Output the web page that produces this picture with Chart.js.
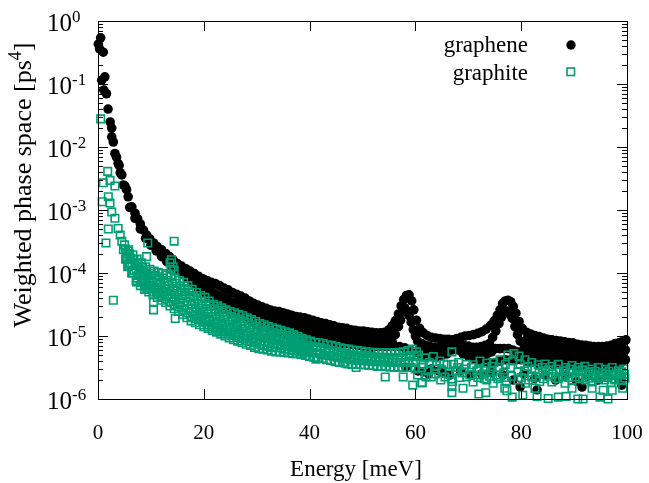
<!DOCTYPE html>
<html>
<head>
<meta charset="utf-8">
<script src="https://cdn.jsdelivr.net/npm/chart.js@4.4.1/dist/chart.umd.min.js"></script>
<style>
  html, body { margin: 0; padding: 0; background: #fff; }
  #wrap { width: 649px; height: 483px; }
</style>
</head>
<body>
<div id="wrap"><canvas id="chart"></canvas></div>
<script>
// tick labels
const xTicks = [0, 20, 40, 60, 80, 100];
const yExponents = [0, -1, -2, -3, -4, -5, -6];

// graphene: [energy meV, weighted phase space ps^4]
const grapheneLowE = [[0.06,0.43],[0.5,0.54],[0.3,0.36],[1.0,0.32],[0.7,0.115],[1.3,0.13],[1.1,0.08],[1.6,0.07],[1.9,0.04],[2.3,0.025],[2.6,0.02],[2.6,0.0145],[2.9,0.012],[3.2,0.0079],[3.5,0.0069],[3.8,0.0055],[4.0,0.0051],[4.2,0.0039],[4.5,0.0036],[4.8,0.0025],[5.1,0.0024],[5.4,0.0021]];

const grapheneUpper = [[5.7,1.62e-3],[6.4,1.12e-3],[7.0,8.9e-4],[7.5,7.2e-4],[8.0,6.0e-4],[8.6,4.8e-4],[9.2,4.0e-4],[9.8,3.47e-4],[10.5,3.0e-4],[11.2,2.63e-4],[12.0,2.34e-4],[12.8,2.04e-4],[13.5,1.82e-4],[14.2,1.62e-4],[15.0,1.41e-4],[15.8,1.29e-4],[16.6,1.17e-4],[17.4,1.07e-4],[18.2,9.8e-5],[19.0,8.9e-5],[19.8,8.1e-5],[20.6,7.6e-5],[21.4,7.1e-5],[22.2,6.8e-5],[23.0,6.3e-5],[23.8,5.75e-5],[24.6,5.4e-5],[25.4,4.9e-5],[26.2,4.6e-5],[27.0,4.3e-5],[27.8,4.0e-5],[28.6,3.6e-5],[29.4,3.3e-5],[30.2,3.1e-5],[31.0,2.9e-5],[31.8,2.75e-5],[32.6,2.57e-5],[33.4,2.5e-5],[34.2,2.45e-5],[35.0,2.34e-5],[35.8,2.24e-5],[36.6,2.14e-5],[37.4,2.04e-5],[38.2,2.0e-5],[39.0,1.95e-5],[39.8,1.86e-5],[40.6,1.78e-5],[41.4,1.7e-5],[42.2,1.62e-5],[43.0,1.58e-5],[43.8,1.51e-5],[44.6,1.45e-5],[45.4,1.38e-5],[46.2,1.35e-5],[47.0,1.32e-5],[47.8,1.26e-5],[48.6,1.23e-5],[49.4,1.2e-5],[50.2,1.2e-5],[51.0,1.17e-5],[51.8,1.15e-5],[52.6,1.12e-5],[53.4,1.12e-5],[54.2,1.15e-5],[55.0,1.26e-5],[55.6,1.45e-5],[56.2,1.74e-5],[56.8,2.24e-5],[57.3,3.0e-5],[57.8,3.8e-5],[58.3,4.4e-5],[58.8,4.5e-5],[59.3,3.6e-5],[59.7,2.6e-5],[60.2,1.78e-5],[60.8,1.32e-5],[61.5,1.12e-5],[62.2,1.02e-5],[63.0,9.5e-6],[63.8,9.3e-6],[64.6,9.1e-6],[65.4,8.9e-6],[66.2,8.9e-6],[67.0,8.7e-6],[67.8,9.1e-6],[68.6,9.5e-6],[69.4,1.0e-5],[70.2,1.02e-5],[71.0,1.05e-5],[71.8,1.1e-5],[72.6,1.17e-5],[73.4,1.29e-5],[74.2,1.48e-5],[74.9,1.74e-5],[75.5,2.14e-5],[76.0,2.6e-5],[76.5,3.3e-5],[77.0,3.6e-5],[77.5,3.7e-5],[78.0,3.5e-5],[78.5,2.95e-5],[79.0,2.3e-5],[79.6,1.7e-5],[80.2,1.32e-5],[81.0,1.15e-5],[81.8,1.07e-5],[82.6,1.02e-5],[83.4,9.8e-6],[84.2,9.3e-6],[85.0,8.9e-6],[85.8,8.7e-6],[86.6,8.5e-6],[87.4,8.3e-6],[88.2,8.1e-6],[89.0,7.9e-6],[89.8,7.8e-6],[90.6,7.4e-6],[91.4,7.2e-6],[92.2,7.1e-6],[93.0,6.9e-6],[93.8,6.8e-6],[94.6,6.8e-6],[95.4,6.8e-6],[96.2,6.9e-6],[97.0,7.1e-6],[97.8,7.6e-6],[98.6,7.9e-6],[99.3,8.3e-6],[99.8,8.7e-6]];

const grapheneMiddle = [[18.6,7.6e-5],[19.4,6.8e-5],[20.2,6.0e-5],[21.0,5.5e-5],[21.8,4.9e-5],[22.6,4.5e-5],[23.4,4.2e-5],[24.2,3.9e-5],[25.0,3.55e-5],[25.8,3.3e-5],[26.6,3.1e-5],[27.4,2.9e-5],[28.2,2.7e-5],[29.0,2.45e-5],[29.8,2.24e-5],[30.6,2.1e-5],[31.4,1.95e-5],[32.2,1.86e-5],[33.0,1.78e-5],[33.8,1.7e-5],[34.6,1.62e-5],[35.4,1.55e-5],[36.2,1.48e-5],[37.0,1.41e-5],[37.8,1.35e-5],[38.6,1.32e-5],[39.4,1.29e-5],[40.2,1.23e-5],[41.0,1.2e-5],[41.8,1.15e-5],[42.6,1.12e-5],[43.4,1.1e-5],[44.2,1.07e-5],[45.0,1.05e-5],[45.8,1.02e-5],[46.6,1.0e-5],[47.4,9.8e-6],[48.2,9.5e-6],[49.0,9.3e-6],[49.8,9.1e-6],[50.6,8.9e-6],[51.4,8.7e-6],[52.2,8.7e-6],[53.0,8.7e-6],[53.8,8.7e-6],[54.6,8.9e-6],[55.4,9.3e-6],[56.2,1.05e-5],[56.8,1.41e-5],[57.2,1.78e-5],[57.6,2.4e-5],[58.0,2.8e-5],[58.4,2.5e-5],[58.8,2.1e-5],[59.2,1.66e-5],[59.6,1.26e-5],[60.0,1.0e-5],[60.4,8.3e-6],[61.2,7.6e-6],[62.0,7.1e-6],[62.8,6.8e-6],[63.6,6.6e-6],[64.4,6.6e-6],[65.2,6.6e-6],[66.0,6.9e-6],[66.8,7.2e-6],[67.6,7.4e-6],[68.4,7.2e-6],[69.2,7.1e-6],[70.0,6.9e-6],[70.8,6.6e-6],[71.6,6.6e-6],[72.4,6.8e-6],[73.2,7.1e-6],[74.0,7.6e-6],[74.6,9.5e-6],[75.2,1.2e-5],[75.8,1.58e-5],[76.3,2.0e-5],[76.8,2.4e-5],[77.3,2.5e-5],[77.8,2.24e-5],[78.3,1.9e-5],[78.8,1.41e-5],[79.3,1.05e-5],[79.8,8.3e-6],[80.6,7.1e-6],[81.4,6.6e-6],[82.2,6.3e-6],[83.0,6.0e-6],[83.8,5.9e-6],[84.6,5.75e-6],[85.4,5.6e-6],[86.2,5.5e-6],[87.0,5.4e-6],[87.8,5.25e-6],[88.6,5.25e-6],[89.4,5.1e-6],[90.2,5.0e-6],[91.0,4.9e-6],[91.8,4.8e-6],[92.6,4.7e-6],[93.4,4.7e-6],[94.2,4.6e-6],[95.0,4.6e-6],[95.8,4.7e-6],[96.6,4.8e-6],[97.4,5.0e-6],[98.2,5.4e-6],[99.0,5.6e-6],[99.7,6.0e-6]];

const grapheneLower = [[6.0,1.1e-3],[7.0,7.4e-4],[8.0,5.0e-4],[9.0,3.55e-4],[10.0,2.75e-4],[11.0,2.24e-4],[12.0,1.82e-4],[13.0,1.51e-4],[14.0,1.26e-4],[15.0,1.1e-4],[16.0,9.5e-5],[17.0,8.3e-5],[18.0,6.8e-5],[19.0,5.6e-5],[20.0,4.8e-5],[21.0,4.0e-5],[22.0,3.4e-5],[23.0,3.0e-5],[24.0,2.75e-5],[25.0,2.5e-5],[26.0,2.34e-5],[27.0,2.14e-5],[28.0,1.95e-5],[29.0,1.74e-5],[30.0,1.58e-5],[31.0,1.45e-5],[32.0,1.35e-5],[33.0,1.26e-5],[34.0,1.17e-5],[35.0,1.1e-5],[36.0,1.02e-5],[37.0,9.5e-6],[38.0,9.1e-6],[39.0,8.7e-6],[40.0,8.5e-6],[41.0,8.3e-6],[42.0,8.3e-6],[43.0,8.1e-6],[44.0,7.9e-6],[45.0,7.8e-6],[46.0,7.6e-6],[47.0,7.6e-6],[48.0,7.4e-6],[49.0,7.1e-6],[50.0,6.9e-6],[51.0,6.8e-6],[52.0,6.6e-6],[53.0,6.8e-6],[54.0,6.8e-6],[55.0,6.9e-6],[56.0,6.9e-6],[57.0,6.8e-6],[58.0,6.5e-6],[59.0,6.0e-6],[60.0,5.5e-6],[61.0,5.0e-6],[62.0,4.8e-6],[63.0,4.7e-6],[64.0,4.7e-6],[65.0,4.9e-6],[66.0,5.2e-6],[67.0,6.0e-6],[68.0,6.0e-6],[69.0,5.2e-6],[70.0,4.8e-6],[71.0,4.4e-6],[72.0,4.2e-6],[73.0,3.9e-6],[74.0,3.7e-6],[75.0,3.8e-6],[76.0,4.0e-6],[77.0,4.2e-6],[78.0,4.2e-6],[79.0,4.2e-6],[80.0,4.2e-6],[81.0,4.0e-6],[82.0,3.8e-6],[83.0,3.7e-6],[84.0,3.7e-6],[85.0,3.6e-6],[86.0,3.55e-6],[87.0,3.55e-6],[88.0,3.5e-6],[89.0,3.5e-6],[90.0,3.4e-6],[91.0,3.3e-6],[92.0,3.2e-6],[93.0,3.16e-6],[94.0,3.16e-6],[95.0,3.1e-6],[96.0,3.16e-6],[97.0,3.3e-6],[98.0,3.55e-6],[99.0,3.8e-6],[99.7,4.2e-6]];

// fill between the rows, 24-56 meV
const grapheneFillLow = [[24.6,3.16e-5],[25.6,2.8e-5],[26.6,2.6e-5],[27.6,2.4e-5],[28.6,2.2e-5],[29.6,1.95e-5],[30.6,1.78e-5],[31.6,1.62e-5],[32.6,1.55e-5],[33.6,1.45e-5],[34.6,1.35e-5],[35.6,1.26e-5],[36.6,1.2e-5],[37.6,1.12e-5],[38.6,1.1e-5],[39.6,1.05e-5],[40.6,1.0e-5],[41.6,9.8e-6],[42.6,9.5e-6],[43.6,9.3e-6],[44.6,9.1e-6],[45.6,8.9e-6],[46.6,8.7e-6],[47.6,8.5e-6],[48.6,8.3e-6],[49.6,7.9e-6],[50.6,7.8e-6],[51.6,7.6e-6],[52.6,7.6e-6],[53.6,7.6e-6],[54.6,7.8e-6],[55.6,8.1e-6],
  [26.6,3.7e-5],[28.0,3.2e-5],[29.4,2.75e-5],[30.8,2.4e-5],[32.2,2.24e-5],[33.6,2.04e-5],[35.0,1.9e-5],[36.4,1.78e-5],[37.8,1.62e-5],[39.2,1.58e-5],[40.6,1.48e-5],[42.0,1.35e-5],[43.4,1.29e-5],[44.8,1.23e-5],[46.2,1.15e-5],[47.6,1.1e-5],[49.0,1.07e-5],[50.4,1.02e-5],[51.8,1.0e-5],[53.2,9.8e-6]];

// fill between the rows above 60 meV
const grapheneFill = [[60.8,6.2e-6],[61.6,5.9e-6],[62.4,5.75e-6],[63.2,5.6e-6],[64.0,5.6e-6],[64.8,5.6e-6],[65.6,5.9e-6],[66.4,6.3e-6],[68.8,6.3e-6],[69.6,5.9e-6],[70.4,5.5e-6],[71.2,5.25e-6],[72.0,5.25e-6],[72.8,5.25e-6],[73.6,5.25e-6],[74.4,5.6e-6],[75.2,6.3e-6],[76.0,6.3e-6],[76.8,6.3e-6],[77.6,6.3e-6],[78.4,6.0e-6],[79.2,5.6e-6],[80.0,5.6e-6],[80.8,5.4e-6],[81.6,5.0e-6],[82.4,4.9e-6],[83.2,4.7e-6],[84.0,4.7e-6],[84.8,4.6e-6],[85.6,4.5e-6],[86.4,4.4e-6],[87.2,4.4e-6],[88.0,4.3e-6],[88.8,4.3e-6],[89.6,4.2e-6],[90.4,4.1e-6],[91.2,4.0e-6],[92.0,3.9e-6],[92.8,3.8e-6],[93.6,3.8e-6],[94.4,3.8e-6],[95.2,3.7e-6],[96.0,3.8e-6],[96.8,3.9e-6],[97.6,4.1e-6],[98.4,4.4e-6],[99.2,4.6e-6],
  [81.0,8.7e-6],[82.0,8.1e-6],[83.0,7.8e-6],[84.0,7.4e-6],[85.0,7.1e-6],[86.0,6.9e-6],[87.0,6.6e-6],[88.0,6.5e-6],[89.0,6.3e-6],[90.0,6.2e-6],[91.0,5.9e-6],[92.0,5.75e-6],[93.0,5.6e-6],[94.0,5.5e-6],[95.0,5.5e-6],[96.0,5.6e-6],[97.0,5.75e-6],[98.0,6.2e-6],[99.0,6.6e-6]];

const grapheneScatter = [[58.2,3.2e-6],[60.5,2.8e-6],[61.5,2.7e-6],[62.5,2.5e-6],[63.0,3.0e-6],[64.5,2.8e-6],[65.2,2.6e-6],[66.5,2.4e-6],[68.5,2.8e-6],[70.5,2.4e-6],[72.5,2.5e-6],[74.5,2.6e-6],[76.5,2.4e-6],[78.5,2.0e-6],[79.8,1.55e-6],[80.5,2.5e-6],[82.5,2.1e-6],[83.0,1.4e-6],[84.5,2.4e-6],[86.5,2.0e-6],[88.5,2.4e-6],[90.5,1.9e-6],[91.5,1.55e-6],[92.5,2.3e-6],[94.5,2.0e-6],[96.5,2.4e-6],[98.5,2.0e-6],[99.0,1.66e-6]];

// graphite
const graphiteLowE = [[0.5,0.028],[1.83,4.1e-3],[1.0,2.7e-3],[2.27,2.95e-3],[3.2,2.4e-3],[1.95,1.62e-3],[0.8,1.35e-3],[2.27,1.29e-3],[2.6,9.3e-4],[3.2,7.4e-4],[1.95,5.0e-4],[3.8,5.1e-4],[4.2,4.0e-4],[1.5,3.0e-4],[4.5,3.2e-4],[9.4,3.0e-4],[14.4,3.2e-4],[4.8,2.34e-4],[5.7,2.24e-4],[5.4,1.74e-4],[6.0,1.45e-4],[9.2,1.82e-4],[13.6,1.45e-4],[13.9,1.62e-4],[14.2,1.26e-4],[13.8,1.15e-4],[14.4,1.1e-4],[6.4,1.0e-4],[7.3,7.2e-5],[9.2,5.75e-5],[2.9,3.7e-5],[10.5,3.5e-5],[10.5,2.6e-5],[14.6,1.9e-5]];

const graphiteRow1 = [[5.0,2.8e-4],[5.8,2.34e-4],[6.6,1.95e-4],[7.4,1.66e-4],[8.2,1.45e-4],[9.0,1.26e-4],[9.8,1.15e-4],[10.6,1.07e-4],[11.4,1.02e-4],[12.2,9.8e-5],[13.0,9.3e-5],[13.8,8.7e-5],[14.6,8.1e-5],[15.4,7.6e-5],[16.2,7.1e-5],[17.0,6.3e-5],[17.8,5.5e-5],[18.6,4.9e-5],[19.4,4.4e-5],[20.2,4.1e-5],[21.0,3.6e-5],[21.8,3.2e-5],[22.6,3.0e-5],[23.4,2.8e-5],[24.2,2.6e-5],[25.0,2.45e-5],[25.8,2.34e-5],[26.6,2.2e-5],[27.4,2.1e-5],[28.2,1.95e-5],[29.0,1.82e-5],[29.8,1.7e-5],[30.6,1.58e-5],[31.4,1.51e-5],[32.2,1.41e-5],[33.0,1.35e-5],[33.8,1.29e-5],[34.6,1.23e-5],[35.4,1.17e-5],[36.2,1.12e-5],[37.0,1.05e-5],[37.8,9.8e-6],[38.6,9.1e-6],[39.4,8.7e-6],[40.2,8.3e-6],[41.0,7.9e-6],[41.8,7.8e-6],[42.6,7.6e-6],[43.4,7.2e-6],[44.2,7.1e-6],[45.0,6.8e-6],[45.8,6.5e-6],[46.6,6.3e-6],[47.4,6.2e-6],[48.2,6.0e-6],[49.0,5.9e-6],[49.8,5.75e-6],[50.6,5.6e-6],[51.4,5.5e-6],[52.2,5.5e-6],[53.0,5.4e-6],[53.8,5.4e-6],[54.6,5.4e-6],[55.4,5.4e-6],[56.2,5.4e-6],[57.0,5.5e-6],[57.8,5.6e-6],[58.6,5.9e-6],[59.4,6.2e-6],[60.2,5.6e-6]];

const graphiteRow2 = [[5.4,2.04e-4],[6.2,1.7e-4],[7.0,1.35e-4],[7.8,1.17e-4],[8.6,1.02e-4],[9.4,9.1e-5],[10.2,8.3e-5],[11.0,7.8e-5],[11.8,7.2e-5],[12.6,6.8e-5],[13.4,6.3e-5],[14.2,5.75e-5],[15.0,5.4e-5],[15.8,5.0e-5],[16.6,4.5e-5],[17.4,4.0e-5],[18.2,3.5e-5],[19.0,3.16e-5],[19.8,2.95e-5],[20.6,2.7e-5],[21.4,2.45e-5],[22.2,2.24e-5],[23.0,2.1e-5],[23.8,2.0e-5],[24.6,1.82e-5],[25.4,1.74e-5],[26.2,1.62e-5],[27.0,1.55e-5],[27.8,1.45e-5],[28.6,1.35e-5],[29.4,1.26e-5],[30.2,1.2e-5],[31.0,1.15e-5],[31.8,1.1e-5],[32.6,1.05e-5],[33.4,1.0e-5],[34.2,9.5e-6],[35.0,9.3e-6],[35.8,8.9e-6],[36.6,8.5e-6],[37.4,8.1e-6],[38.2,7.6e-6],[39.0,7.2e-6],[39.8,7.1e-6],[40.6,6.8e-6],[41.4,6.6e-6],[42.2,6.5e-6],[43.0,6.2e-6],[43.8,5.9e-6],[44.6,5.75e-6],[45.4,5.5e-6],[46.2,5.4e-6],[47.0,5.25e-6],[47.8,5.1e-6],[48.6,5.0e-6],[49.4,4.9e-6],[50.2,4.9e-6],[51.0,4.8e-6],[51.8,4.7e-6],[52.6,4.6e-6],[53.4,4.6e-6],[54.2,4.6e-6],[55.0,4.5e-6],[55.8,4.5e-6],[56.6,4.5e-6],[57.4,4.6e-6],[58.2,4.7e-6],[59.0,4.9e-6],[59.8,4.7e-6]];

const graphiteRow3 = [[5.2,1.66e-4],[6.0,1.41e-4],[6.8,1.1e-4],[7.6,9.1e-5],[8.4,7.9e-5],[9.2,6.9e-5],[10.0,6.3e-5],[10.8,5.75e-5],[11.6,5.4e-5],[12.4,5.0e-5],[13.2,4.6e-5],[14.0,4.1e-5],[14.8,3.8e-5],[15.6,3.4e-5],[16.4,3.1e-5],[17.2,2.75e-5],[18.0,2.45e-5],[18.8,2.24e-5],[19.6,2.1e-5],[20.4,1.95e-5],[21.2,1.78e-5],[22.0,1.62e-5],[22.8,1.55e-5],[23.6,1.45e-5],[24.4,1.32e-5],[25.2,1.26e-5],[26.0,1.17e-5],[26.8,1.12e-5],[27.6,1.05e-5],[28.4,1.0e-5],[29.2,9.3e-6],[30.0,8.9e-6],[30.8,8.3e-6],[31.6,8.1e-6],[32.4,7.9e-6],[33.2,7.6e-6],[34.0,7.4e-6],[34.8,7.1e-6],[35.6,7.1e-6],[36.4,6.8e-6],[37.2,6.6e-6],[38.0,6.3e-6],[38.8,6.0e-6],[39.6,5.75e-6],[40.4,5.5e-6],[41.2,5.4e-6],[42.0,5.25e-6],[42.8,5.0e-6],[43.6,4.9e-6],[44.4,4.8e-6],[45.2,4.6e-6],[46.0,4.5e-6],[46.8,4.4e-6],[47.6,4.3e-6],[48.4,4.2e-6],[49.2,4.1e-6],[50.0,4.1e-6],[50.8,4.0e-6],[51.6,4.0e-6],[52.4,3.9e-6],[53.2,3.9e-6],[54.0,3.9e-6],[54.8,3.8e-6],[55.6,3.8e-6],[56.4,3.8e-6],[57.2,3.8e-6],[58.0,3.8e-6],[58.8,4.0e-6],[59.6,3.8e-6]];

const graphiteRow4 = [[5.6,1.26e-4],[6.4,1.0e-4],[7.2,7.6e-5],[8.0,6.3e-5],[8.8,5.5e-5],[9.6,5.0e-5],[10.4,4.5e-5],[11.2,4.1e-5],[12.0,3.7e-5],[12.8,3.4e-5],[13.6,3.0e-5],[14.4,2.7e-5],[15.2,2.45e-5],[16.0,2.2e-5],[16.8,1.95e-5],[17.6,1.74e-5],[18.4,1.62e-5],[19.2,1.51e-5],[20.0,1.41e-5],[20.8,1.32e-5],[21.6,1.23e-5],[22.4,1.15e-5],[23.2,1.07e-5],[24.0,1.0e-5],[24.8,9.3e-6],[25.6,8.7e-6],[26.4,8.3e-6],[27.2,7.9e-6],[28.0,7.4e-6],[28.8,7.1e-6],[29.6,6.6e-6],[30.4,6.3e-6],[31.2,6.2e-6],[32.0,6.0e-6],[32.8,5.75e-6],[33.6,5.6e-6],[34.4,5.6e-6],[35.2,5.5e-6],[36.0,5.4e-6],[36.8,5.25e-6],[37.6,5.25e-6],[38.4,5.1e-6],[39.2,4.9e-6],[40.0,4.7e-6],[40.8,4.6e-6],[41.6,4.5e-6],[42.4,4.4e-6],[43.2,4.2e-6],[44.0,4.1e-6],[44.8,3.9e-6],[45.6,3.8e-6],[46.4,3.8e-6],[47.2,3.6e-6],[48.0,3.55e-6],[48.8,3.55e-6],[49.6,3.5e-6],[50.4,3.5e-6],[51.2,3.4e-6],[52.0,3.4e-6],[52.8,3.3e-6],[53.6,3.3e-6],[54.4,3.3e-6],[55.2,3.2e-6],[56.0,3.2e-6],[56.8,3.16e-6],[57.6,3.16e-6],[58.4,3.16e-6],[59.2,3.16e-6],[60.0,3.0e-6]];

// in-between rows of the dense band, 5-40 meV
const graphiteFillA = [[5.2,2.4e-4],[6.0,2.0e-4],[6.8,1.62e-4],[7.6,1.41e-4],[8.4,1.23e-4],[9.2,1.07e-4],[10.0,9.8e-5],[10.8,9.1e-5],[11.6,8.7e-5],[12.4,8.3e-5],[13.2,7.6e-5],[14.0,7.1e-5],[14.8,6.8e-5],[15.6,6.2e-5],[16.4,5.6e-5],[17.2,5.0e-5],[18.0,4.4e-5],[18.8,3.9e-5],[19.6,3.6e-5],[20.4,3.3e-5],[21.2,3.0e-5],[22.0,2.7e-5],[22.8,2.57e-5],[23.6,2.4e-5],[24.4,2.2e-5],[25.2,2.04e-5],[26.0,1.95e-5],[26.8,1.86e-5],[27.6,1.74e-5],[28.4,1.62e-5],[29.2,1.51e-5],[30.0,1.41e-5],[30.8,1.35e-5],[31.6,1.26e-5],[32.4,1.23e-5],[33.2,1.15e-5],[34.0,1.1e-5],[34.8,1.05e-5],[35.6,1.02e-5],[36.4,9.8e-6],[37.2,9.1e-6],[38.0,8.5e-6],[38.8,8.3e-6],[39.6,7.8e-6]];

const graphiteFillB = [[5.6,1.74e-4],[6.4,1.41e-4],[7.2,1.15e-4],[8.0,9.8e-5],[8.8,8.5e-5],[9.6,7.6e-5],[10.4,7.1e-5],[11.2,6.5e-5],[12.0,6.0e-5],[12.8,5.6e-5],[13.6,5.1e-5],[14.4,4.7e-5],[15.2,4.4e-5],[16.0,4.0e-5],[16.8,3.55e-5],[17.6,3.16e-5],[18.4,2.8e-5],[19.2,2.57e-5],[20.0,2.4e-5],[20.8,2.24e-5],[21.6,2.0e-5],[22.4,1.86e-5],[23.2,1.74e-5],[24.0,1.62e-5],[24.8,1.51e-5],[25.6,1.41e-5],[26.4,1.35e-5],[27.2,1.29e-5],[28.0,1.2e-5],[28.8,1.15e-5],[29.6,1.07e-5],[30.4,1.0e-5],[31.2,9.5e-6],[32.0,9.3e-6],[32.8,8.9e-6],[33.6,8.5e-6],[34.4,8.3e-6],[35.2,7.9e-6],[36.0,7.8e-6],[36.8,7.4e-6],[37.6,7.2e-6],[38.4,6.9e-6],[39.2,6.6e-6],[40.0,6.3e-6]];

const graphiteFillC = [[5.8,1.32e-4],[6.6,1.02e-4],[7.4,8.3e-5],[8.2,7.1e-5],[9.0,6.2e-5],[9.8,5.6e-5],[10.6,5.0e-5],[11.4,4.7e-5],[12.2,4.3e-5],[13.0,3.9e-5],[13.8,3.5e-5],[14.6,3.16e-5],[15.4,2.9e-5],[16.2,2.6e-5],[17.0,2.34e-5],[17.8,2.04e-5],[18.6,1.9e-5],[19.4,1.78e-5],[20.2,1.66e-5],[21.0,1.51e-5],[21.8,1.41e-5],[22.6,1.32e-5],[23.4,1.23e-5],[24.2,1.15e-5],[25.0,1.07e-5],[25.8,1.02e-5],[26.6,9.5e-6],[27.4,9.1e-6],[28.2,8.5e-6],[29.0,8.1e-6],[29.8,7.8e-6],[30.6,7.4e-6],[31.4,7.1e-6],[32.2,6.9e-6],[33.0,6.6e-6],[33.8,6.5e-6],[34.6,6.5e-6],[35.4,6.2e-6],[36.2,6.0e-6],[37.0,5.9e-6],[37.8,5.75e-6],[38.6,5.6e-6],[39.4,5.4e-6]];

const graphiteHighE = [[60.6,5.0e-6],[61.8,4.5e-6],[63.4,4.7e-6],[64.6,4.0e-6],[66.0,3.5e-6],[66.9,5.6e-6],[68.2,3.8e-6],[69.6,3.55e-6],[70.9,3.5e-6],[72.2,4.0e-6],[73.5,3.7e-6],[74.8,3.8e-6],[76.0,4.2e-6],[77.5,5.0e-6],[78.6,5.25e-6],[79.6,4.8e-6],[80.7,4.2e-6],[82.0,3.8e-6],[83.2,3.5e-6],[84.5,3.6e-6],[85.8,3.3e-6],[87.0,3.55e-6],[88.4,3.16e-6],[89.6,3.4e-6],[90.8,3.16e-6],[92.0,3.3e-6],[93.4,3.0e-6],[94.6,3.16e-6],[95.9,2.95e-6],[97.2,3.16e-6],[98.4,2.8e-6],[99.4,3.0e-6],
  [61.2,3.16e-6],[62.4,2.8e-6],[63.6,3.0e-6],[65.0,2.9e-6],[66.4,2.5e-6],[67.6,2.8e-6],[68.8,2.6e-6],[70.3,2.4e-6],[71.6,2.8e-6],[72.9,2.5e-6],[74.2,2.75e-6],[75.4,2.4e-6],[76.7,2.6e-6],[78.0,3.16e-6],[79.4,2.7e-6],[80.6,2.8e-6],[82.0,2.34e-6],[83.4,2.6e-6],[84.6,2.8e-6],[86.0,2.5e-6],[87.2,2.7e-6],[88.4,2.5e-6],[89.8,2.6e-6],[90.9,2.75e-6],[92.2,2.4e-6],[93.6,2.5e-6],[94.8,2.3e-6],[96.1,2.5e-6],[97.4,2.34e-6],[98.6,2.4e-6],[99.5,2.5e-6],
  [61.2,1.82e-6],[63.0,2.24e-6],[64.8,2.0e-6],[67.0,1.9e-6],[69.7,2.24e-6],[70.9,1.86e-6],[72.2,2.4e-6],[73.5,2.0e-6],[74.7,1.78e-6],[76.0,2.24e-6],[77.2,1.9e-6],[79.4,2.0e-6],[80.8,1.78e-6],[82.0,2.24e-6],[83.5,1.9e-6],[85.8,1.86e-6],[87.0,2.1e-6],[88.3,1.78e-6],[89.6,2.0e-6],[91.0,2.1e-6],[92.1,2.0e-6],[93.4,1.86e-6],[94.6,2.1e-6],[95.8,2.0e-6],[97.0,1.82e-6],[97.7,2.0e-6],[99.0,2.0e-6]];

const graphiteHighFill = [[60.0,3.8e-6],[61.5,3.55e-6],[62.6,3.8e-6],[64.0,3.4e-6],[65.4,3.6e-6],[67.2,3.55e-6],[68.0,3.16e-6],[69.2,3.0e-6],[70.6,3.16e-6],[72.0,2.95e-6],[73.2,3.16e-6],[74.5,3.3e-6],[75.8,3.16e-6],[77.0,3.55e-6],[78.4,4.0e-6],[79.8,3.55e-6],[81.2,3.3e-6],[82.6,3.0e-6],[84.0,3.16e-6],[85.2,2.9e-6],[86.6,3.0e-6],[88.0,2.8e-6],[89.2,2.95e-6],[90.4,2.8e-6],[91.6,2.9e-6],[92.8,2.7e-6],[94.0,2.75e-6],[95.4,2.6e-6],[96.6,2.75e-6],[97.8,2.5e-6],[99.0,2.7e-6],
  [60.4,2.4e-6],[62.0,2.24e-6],[63.8,2.5e-6],[65.6,2.24e-6],[66.8,2.1e-6],[68.4,2.2e-6],[71.8,2.2e-6],[73.0,2.1e-6],[74.0,2.3e-6],[75.6,2.1e-6],[76.8,2.2e-6],[78.2,2.3e-6],[80.0,2.2e-6],[81.4,2.0e-6],[82.8,2.2e-6],[84.2,2.1e-6],[85.0,2.3e-6],[86.6,2.14e-6],[87.8,2.24e-6],[89.0,2.2e-6],[90.2,2.24e-6],[91.6,2.2e-6],[92.8,2.14e-6],[94.0,2.24e-6],[95.2,2.2e-6],[96.4,2.2e-6],[97.6,2.1e-6],[98.8,2.2e-6],[99.6,2.14e-6]];

const graphiteOutliers = [[41.2,4.3e-6],[46.7,3.7e-6],[48.8,3.16e-6],[54.3,2.24e-6],[57.7,2.24e-6],[59.5,1.66e-6],[61.3,1.82e-6],[66.9,1.58e-6],[66.9,1.26e-6],[69.0,1.48e-6],[72.0,1.2e-6],[73.3,1.26e-6],[76.9,1.48e-6],[77.3,1.35e-6],[78.3,1.07e-6],[80.3,1.15e-6],[82.6,1.48e-6],[83.0,1.1e-6],[85.1,1.02e-6],[87.0,1.07e-6],[88.5,1.1e-6],[89.6,1.48e-6],[90.7,1.0e-6],[91.7,1.0e-6],[93.4,1.48e-6],[94.9,1.07e-6],[95.5,1.38e-6],[96.4,1.0e-6],[97.2,1.38e-6],[99.2,1.48e-6]];

const toXY = arr => arr.map(p => ({ x: p[0], y: p[1] }));

const graphene = [].concat(grapheneLowE, grapheneUpper, grapheneMiddle, grapheneLower, grapheneFillLow, grapheneFill, grapheneScatter);
const graphite = [].concat(graphiteLowE, graphiteRow1, graphiteFillA, graphiteRow2, graphiteFillB, graphiteRow3, graphiteFillC, graphiteRow4, graphiteHighE, graphiteHighFill, graphiteOutliers);

const FONT = '"Liberation Serif", "Times New Roman", serif';
const GREEN = '#009e73';

// frame, ticks, labels and key drawn gnuplot style
const frame = {
    id: 'frame',
    afterDatasetsDraw(chart) {
        const { ctx, chartArea: a, scales } = chart;
        const x = scales.x, y = scales.y;
        ctx.save();
        ctx.strokeStyle = '#000';
        ctx.lineWidth = 1;
        ctx.strokeRect(a.left + 0.5, a.top + 0.5, a.right - a.left, a.bottom - a.top);

        ctx.beginPath();
        xTicks.forEach(v => {
            const px = Math.round(x.getPixelForValue(v)) + 0.5;
            ctx.moveTo(px, a.bottom); ctx.lineTo(px, a.bottom - 10);
            ctx.moveTo(px, a.top); ctx.lineTo(px, a.top + 10);
        });
        yExponents.forEach(e => {
            const py = Math.round(y.getPixelForValue(Math.pow(10, e))) + 0.5;
            ctx.moveTo(a.left, py); ctx.lineTo(a.left + 10, py);
            ctx.moveTo(a.right, py); ctx.lineTo(a.right - 10, py);
            if (e < 0) {
                for (let m = 2; m <= 9; m++) {
                    const pm = Math.round(y.getPixelForValue(m * Math.pow(10, e))) + 0.5;
                    ctx.moveTo(a.left, pm); ctx.lineTo(a.left + 5, pm);
                    ctx.moveTo(a.right, pm); ctx.lineTo(a.right - 5, pm);
                }
            }
        });
        ctx.stroke();

        ctx.fillStyle = '#000';
        // x tick labels
        ctx.font = '21px ' + FONT;
        ctx.textAlign = 'center';
        ctx.textBaseline = 'alphabetic';
        xTicks.forEach(v => ctx.fillText(String(v), x.getPixelForValue(v), 439));

        // y tick labels 10^n
        yExponents.forEach(e => {
            const py = y.getPixelForValue(Math.pow(10, e));
            ctx.font = '25px ' + FONT;
            ctx.textAlign = 'right';
            ctx.fillText('10', 72, py + 10);
            ctx.font = '17px ' + FONT;
            ctx.textAlign = 'left';
            ctx.fillText(e === 0 ? '0' : '-' + Math.abs(e), 72, py + 1);
        });

        // x title
        ctx.font = '23px ' + FONT;
        ctx.textAlign = 'center';
        ctx.fillText('Energy [meV]', 356, 476);

        // y title
        ctx.save();
        ctx.translate(31, 185);
        ctx.rotate(-Math.PI / 2);
        const main = 'Weighted phase space [ps';
        ctx.font = '26px ' + FONT;
        const w1 = ctx.measureText(main).width;
        ctx.font = '18px ' + FONT;
        const w2 = ctx.measureText('4').width;
        ctx.font = '26px ' + FONT;
        const w3 = ctx.measureText(']').width;
        const sx = -(w1 + w2 + w3) / 2;
        ctx.textAlign = 'left';
        ctx.fillText(main, sx, 0);
        ctx.font = '18px ' + FONT;
        ctx.fillText('4', sx + w1, -10);
        ctx.font = '26px ' + FONT;
        ctx.fillText(']', sx + w1 + w2, 0);
        ctx.restore();

        // key
        ctx.font = '23px ' + FONT;
        ctx.textAlign = 'right';
        ctx.fillText('graphene', 528, 52);
        ctx.fillText('graphite', 528, 80);
        ctx.beginPath();
        ctx.arc(571, 45, 4.7, 0, Math.PI * 2);
        ctx.fill();
        ctx.strokeStyle = GREEN;
        ctx.lineWidth = 1.6;
        ctx.strokeRect(567, 68, 7.5, 7.5);
        ctx.restore();
    }
};

new Chart(document.getElementById('chart'), {
    type: 'scatter',
    data: {
        datasets: [
            {
                label: 'graphite',
                data: toXY(graphite),
                pointStyle: 'rect',
                pointRadius: 5.3,
                borderWidth: 1.6,
                borderColor: GREEN,
                backgroundColor: 'rgba(0,0,0,0)',
                clip: false,
                order: 0
            },
            {
                label: 'graphene',
                data: toXY(graphene),
                pointStyle: 'circle',
                pointRadius: 4.8,
                borderWidth: 0,
                borderColor: '#000',
                backgroundColor: '#000',
                clip: false,
                order: 1
            }
        ]
    },
    options: {
        responsive: true,
        maintainAspectRatio: false,
        animation: false,
        events: [],
        layout: { padding: { left: 98, right: 22, top: 21, bottom: 84 } },
        plugins: { legend: { display: false }, tooltip: { enabled: false } },
        scales: {
            x: { type: 'linear', min: 0, max: 100, display: false },
            y: { type: 'logarithmic', min: 1e-6, max: 1, display: false }
        }
    },
    plugins: [frame]
});
</script>
</body>
</html>
